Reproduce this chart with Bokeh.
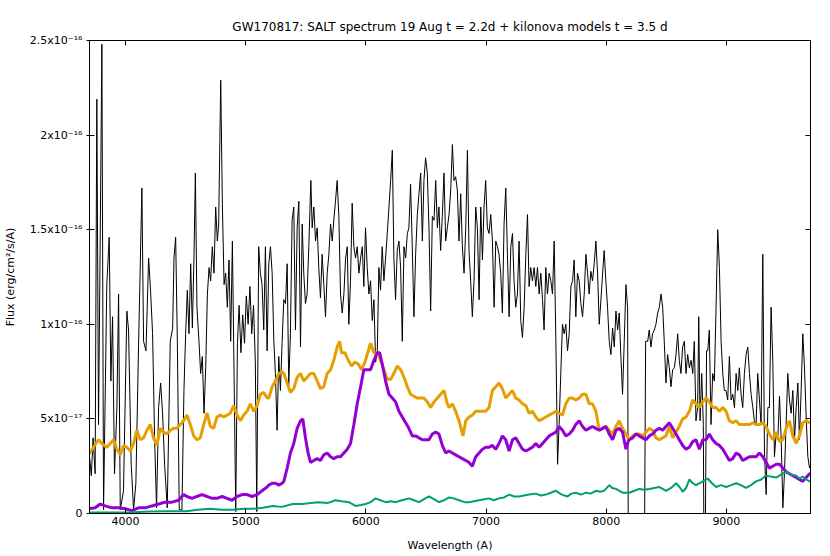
from bokeh.plotting import figure
from bokeh.models import Range1d, FixedTicker, LinearAxis
from bokeh.embed import file_html
from bokeh.resources import INLINE

TITLE = "GW170817: SALT spectrum 19 Aug t = 2.2d + kilonova models t = 3.5 d"

# Fluxes are in units of 1e-17 erg/cm2/s/A
obs_wl = [3700, 3715, 3730, 3747, 3761, 3775, 3789, 3803, 3817, 3844, 3864, 3878, 3892, 3908, 3928, 3942, 3956, 3983,
          4011, 4025, 4047, 4067, 4086, 4108, 4136, 4150, 4170, 4192, 4208, 4225, 4242, 4258, 4275, 4292, 4308, 4325,
          4347, 4372, 4392, 4403, 4417, 4431, 4447, 4469, 4486, 4500, 4514, 4528, 4542, 4556, 4570, 4581, 4594, 4611,
          4625, 4639, 4653, 4667, 4681, 4695, 4708, 4722, 4736, 4750, 4764, 4775, 4792, 4806, 4820, 4833, 4847, 4861,
          4875, 4889, 4903, 4917, 4931, 4945, 4960, 4975, 4990, 5005, 5020, 5035, 5050, 5065, 5080, 5092, 5108, 5122,
          5136, 5150, 5164, 5178,
          5192, 5206, 5220, 5234, 5247, 5261, 5275, 5289, 5303, 5317, 5331, 5345, 5358, 5372, 5386, 5400, 5414, 5428,
          5442, 5456, 5470, 5483, 5497, 5511, 5525, 5542, 5553, 5567, 5581, 5595, 5608, 5622, 5636, 5650, 5664, 5678,
          5692, 5706, 5720, 5733, 5747, 5761, 5775, 5789, 5803, 5817, 5831, 5845, 5858, 5872, 5886, 5900, 5914, 5928,
          5942, 5956, 5970, 5983, 5997, 6011, 6025, 6039, 6053, 6067, 6081, 6095, 6108, 6122, 6136, 6150, 6164, 6178,
          6192, 6206, 6220, 6233, 6247, 6261, 6275, 6289, 6303, 6317, 6331, 6345, 6358, 6372, 6386, 6400, 6414, 6428,
          6442, 6456, 6470, 6483, 6497, 6511, 6525, 6539, 6553, 6567, 6581, 6595, 6608, 6622, 6636, 6650, 6664, 6678,
          6692, 6706, 6720, 6733, 6747, 6761, 6775, 6789, 6803, 6817, 6831, 6845, 6858, 6872, 6886, 6900, 6914, 6928,
          6942, 6956, 6970, 6983, 6997, 7011, 7025, 7039, 7053, 7067, 7081, 7095, 7108, 7122, 7136, 7150, 7164, 7178,
          7192, 7206, 7220, 7233, 7247, 7261, 7275, 7289, 7303, 7317, 7331, 7345, 7358, 7372, 7386, 7400, 7414, 7428,
          7442, 7456, 7470, 7483, 7497, 7511, 7525, 7539, 7553, 7567, 7581, 7595, 7608, 7622, 7636, 7650, 7664, 7678,
          7692, 7706, 7720, 7733, 7747, 7761, 7775, 7789, 7803, 7817, 7831, 7845, 7858, 7872, 7886, 7900, 7914, 7928,
          7942, 7956, 7970, 7983, 7997, 8011, 8025, 8039, 8053, 8067, 8081, 8095, 8108, 8122, 8136, 8150, 8164, 8178,
          8183, 8320, 8328, 8345, 8358, 8372, 8386, 8400, 8414, 8428, 8442, 8456, 8470, 8483, 8497, 8511, 8525, 8539,
          8553, 8567, 8581, 8595, 8608, 8622, 8636, 8650, 8664, 8678, 8692, 8706, 8720, 8733, 8747, 8761, 8770, 8781,
          8795, 8808, 8812, 8826, 8835, 8845, 8858, 8872, 8886, 8900, 8914, 8928, 8942, 8956, 8970, 8983, 8997, 9011,
          9025, 9039, 9053, 9067, 9081, 9095, 9108, 9122, 9136, 9150, 9164, 9178, 9192, 9206, 9220, 9233, 9247, 9261,
          9275, 9289, 9303, 9317, 9331, 9345, 9358, 9372, 9386, 9400, 9414, 9428, 9442, 9456, 9470, 9483, 9497, 9511,
          9525, 9539, 9553, 9567, 9581, 9595, 9608, 9622, 9636, 9650, 9664, 9678, 9692]
obs_flux = [3.0, 2.0, 4.0, 2.1, 21.9, 4.7, 14.4, 24.8, 0.2, 12.1, 14.6, 7.0, 10.4, 2.1, 5.6, 11.6, 0.2, 1.2,
            10.7, 9.7, 2.6, 0.2, 1.6, 8.8, 17.2, 9.1, 8.6, 13.5, 11.8, 9.5, 3.9, 0.3, 5.6, 6.9, 5.3, 2.6,
            0.3, 9.1, 9.8, 13.5, 14.6, 9.1, 0.2, 0.2, 6.5, 9.5, 11.8, 9.5, 13.2, 9.8, 13.7, 18.0, 10.9, 9.1,
            7.4, 8.3, 5.3, 7.7, 11.6, 13.0, 12.3, 14.1, 12.7, 16.2, 14.4, 15.3, 22.9, 16.2, 12.1, 12.7, 10.9, 13.4,
            9.1, 14.4, 7.4, 0.1, 9.0, 11.0, 8.5, 10.5, 9.0, 11.5, 10.0, 12.0, 9.5, 11.0, 8.0, 0.1, 14.1, 12.7,
            12.1, 9.7, 14.1, 8.6,
            13.2, 14.1, 12.7, 9.1, 7.4, 4.4, 8.3, 6.5, 9.1, 11.3, 11.1, 13.2, 6.8, 9.5, 15.5, 16.2, 9.7, 15.1,
            16.5, 8.8, 15.3, 12.7, 11.1, 11.6, 14.1, 17.6, 15.1, 16.2, 14.4, 15.1, 13.0, 11.4, 13.7, 12.1, 10.4, 12.7,
            13.7, 15.3, 14.4, 15.5, 16.5, 17.6, 15.7, 11.6, 10.6, 11.6, 13.5, 14.1, 10.0, 12.3, 16.4, 14.1, 13.5, 14.1,
            12.7, 13.5, 14.1, 12.0, 15.1, 13.0, 11.6, 12.3, 10.2, 11.3, 8.0, 8.6, 13.0, 11.8, 14.1, 12.3, 13.5, 14.8,
            16.2, 17.6, 19.2, 13.5, 11.3, 13.9, 14.4, 13.0, 9.1, 14.1, 13.5, 14.8, 15.1, 17.4, 14.1, 10.4, 13.7, 15.8,
            16.9, 18.0, 14.4, 17.6, 18.8, 18.0, 15.1, 10.7, 15.7, 15.5, 17.6, 15.1, 16.2, 13.9, 15.7, 18.0, 14.4, 15.1,
            15.8, 17.1, 19.5, 17.6, 17.8, 17.1, 14.4, 16.9, 14.1, 12.7, 15.1, 19.2, 13.9, 12.3, 10.4, 12.3, 16.2, 15.1,
            11.3, 16.2, 13.4, 16.2, 17.6, 15.1, 14.8, 15.8, 14.4, 10.9, 14.4, 14.1, 13.7, 12.7, 10.6, 15.3, 17.2, 13.7,
            10.4, 14.1, 14.8, 12.3, 10.9, 11.6, 14.4, 10.2, 9.3, 10.9, 13.7, 15.8, 12.0, 13.0, 12.3, 13.0, 12.0, 13.0,
            11.6, 12.7, 11.3, 9.7, 13.0, 11.6, 12.7, 12.3, 11.6, 14.4, 9.1, 2.6, 4.7, 7.4, 10.0, 9.5, 10.0, 8.6,
            9.5, 12.0, 12.3, 13.4, 10.4, 12.7, 12.3, 11.1, 10.4, 11.6, 13.7, 12.7, 11.6, 12.8, 12.3, 13.2, 14.4, 12.7,
            10.0, 11.3, 12.7, 13.9, 12.3, 10.9, 9.1, 8.4, 9.8, 8.8, 10.7, 9.7, 10.6, 8.3, 6.3, 9.1, 12.1, 10.9,
            0.0, 0.0, 9.1, 9.1, 9.7, 8.8, 9.5, 9.7, 10.0, 10.6, 10.9, 11.6, 10.9, 9.1, 6.9, 8.4, 7.7, 6.7,
            7.6, 7.7, 8.4, 9.5, 8.1, 7.4, 8.8, 9.1, 7.4, 8.4, 7.7, 8.1, 7.4, 9.1, 4.9, 5.6, 10.4, 4.9,
            7.4, 4.7, 0.0, 0.0, 8.6, 8.6, 9.7, 4.7, 7.4, 7.0, 10.9, 15.0, 13.0, 9.1, 7.4, 6.5, 6.5, 6.0,
            8.3, 6.0, 6.3, 5.6, 7.4, 6.5, 7.7, 6.3, 5.6, 7.4, 8.4, 8.8, 7.4, 6.3, 5.6, 4.9, 4.7, 7.4,
            6.0, 4.7, 13.7, 3.2, 1.0, 5.6, 5.6, 10.9, 8.1, 3.0, 4.2, 3.9, 6.2, 3.9, 0.3, 2.1, 4.7, 7.4,
            6.0, 5.3, 6.5, 3.9, 5.6, 6.9, 3.9, 6.5, 9.5, 7.7, 5.1, 3.0, 2.4]

orange_wl = [3692, 3733, 3775, 3803, 3844, 3872, 3900, 3928, 3956, 3983, 4011, 4039, 4067, 4094, 4122, 4150, 4178,
             4206, 4233, 4261, 4289, 4317, 4344, 4372, 4400, 4428, 4456, 4483, 4511, 4539, 4567, 4594, 4622, 4650,
             4678, 4706, 4733, 4761, 4789, 4817, 4845, 4872, 4900, 4928, 4956, 4983, 5011, 5039, 5067, 5095, 5122,
             5150, 5178, 5192, 5220, 5247, 5275, 5303, 5317, 5345, 5372, 5400, 5428, 5456, 5483, 5511, 5539, 5567,
             5595, 5622, 5650, 5678, 5706, 5733, 5761, 5781, 5797, 5825, 5853, 5881, 5908, 5936, 5964, 5992, 6020,
             6039, 6067, 6095, 6122, 6150, 6178, 6206, 6233, 6261, 6289, 6317, 6345, 6372, 6400, 6428, 6456, 6483,
             6511, 6539, 6567, 6595, 6622, 6650, 6678, 6692, 6720, 6747, 6775, 6808, 6831, 6858, 6886, 6914, 6942,
             6970, 6997, 7025, 7053, 7081, 7108, 7136, 7164, 7192, 7220, 7247, 7275, 7303, 7331, 7358, 7386, 7414,
             7442, 7470, 7497, 7525, 7553, 7581, 7608, 7636, 7664, 7692, 7720, 7747, 7775, 7803, 7831, 7858, 7886,
             7914, 7942, 7970, 7997, 8025, 8053, 8081, 8108, 8136, 8164, 8183, 8192, 8220, 8247, 8275, 8303, 8331,
             8358, 8386, 8414, 8442, 8470, 8497, 8525, 8553, 8581, 8608, 8636, 8664, 8692, 8720, 8747, 8775, 8803,
             8831, 8858, 8886, 8914, 8942, 8970, 8997, 9025, 9053, 9081, 9108, 9136, 9164, 9192, 9220, 9247, 9275,
             9303, 9331, 9358, 9386, 9414, 9442, 9470, 9497, 9525, 9553, 9581, 9608, 9636, 9664, 9692, 9700]
orange_flux = [3.1, 3.5, 3.9, 3.7, 3.5, 3.7, 3.9, 3.4, 3.1, 3.6, 3.5, 3.3, 3.7, 4.4, 3.9, 4.0, 4.4,
               4.7, 4.0, 3.6, 4.5, 4.3, 4.2, 4.4, 4.5, 4.5, 4.7, 4.9, 5.2, 4.7, 4.1, 3.9, 4.0, 4.7,
               5.3, 4.6, 4.5, 5.1, 5.2, 5.1, 5.2, 5.3, 5.7, 5.2, 4.9, 5.2, 5.4, 5.8, 5.4, 5.7, 6.3,
               6.4, 6.1, 6.1, 6.7, 7.0, 7.4, 7.5, 7.4, 6.9, 6.4, 6.6, 7.2, 7.4, 7.0, 7.2, 7.4, 7.4,
               7.0, 6.6, 6.7, 7.4, 7.6, 8.1, 8.8, 9.1, 8.5, 8.5, 8.1, 7.8, 8.0, 7.9, 7.6, 8.0, 8.6,
               9.0, 8.5, 8.5, 8.1, 7.6, 7.1, 7.1, 7.4, 7.8, 7.6, 7.2, 6.7, 6.3, 6.2, 6.1, 6.1, 6.1,
               5.9, 5.6, 5.9, 6.1, 6.3, 6.5, 5.8, 5.6, 5.8, 5.4, 4.9, 4.1, 4.9, 5.1, 5.2, 5.4, 5.4,
               5.4, 5.4, 5.6, 6.5, 6.7, 6.9, 6.6, 6.1, 6.3, 6.5, 6.1, 6.0, 5.8, 5.7, 5.3, 5.4, 5.1,
               4.9, 5.0, 5.1, 5.2, 5.3, 5.4, 5.3, 5.2, 5.8, 6.1, 6.1, 6.0, 6.1, 6.3, 6.3, 5.8, 5.8,
               5.4, 4.4, 4.5, 4.6, 4.4, 4.2, 4.6, 4.9, 4.5, 4.2, 4.0, 3.9, 4.1, 4.2, 4.2, 4.1, 4.3,
               4.5, 4.4, 4.0, 3.9, 4.0, 4.1, 4.6, 4.0, 4.3, 4.6, 5.0, 5.1, 5.4, 6.0, 5.8, 5.6, 5.9,
               6.1, 5.9, 5.6, 5.6, 5.4, 5.6, 5.4, 4.9, 4.8, 4.9, 4.7, 4.7, 4.7, 4.7, 4.8, 4.7, 4.7,
               4.8, 4.6, 4.2, 3.9, 4.3, 3.8, 3.9, 4.5, 4.9, 4.1, 3.7, 4.1, 4.8, 4.9, 4.8, 4.8]

purple_wl = [3692, 3747, 3789, 3831, 3886, 3942, 3997, 4053, 4108, 4164, 4219, 4275, 4330, 4386, 4442, 4483, 4511,
             4553, 4594, 4636, 4678, 4719, 4761, 4803, 4845, 4886, 4928, 4970, 5011, 5053, 5095, 5136, 5178, 5192,
             5220, 5247, 5275, 5303, 5317, 5345, 5372, 5400, 5428, 5456, 5475, 5497, 5519, 5539, 5567, 5595, 5622,
             5650, 5678, 5706, 5733, 5761, 5789, 5817, 5845, 5872, 5900, 5928, 5956, 5983, 6011, 6039, 6067, 6095,
             6114, 6136, 6164, 6192, 6220, 6247, 6275, 6303, 6331, 6358, 6386, 6414, 6442, 6470, 6497, 6525, 6553,
             6581, 6608, 6636, 6664, 6692, 6720, 6747, 6775, 6803, 6831, 6858, 6886, 6914, 6942, 6970, 6997, 7025,
             7053, 7081, 7108, 7136, 7164, 7192, 7220, 7247, 7275, 7303, 7331, 7358, 7386, 7414, 7442, 7470, 7497,
             7525, 7553, 7581, 7608, 7636, 7664, 7692, 7720, 7747, 7775, 7803, 7831, 7858, 7886, 7914, 7942, 7970,
             7997, 8025, 8053, 8081, 8108, 8136, 8164, 8183, 8192, 8220, 8247, 8275, 8303, 8331, 8358, 8386, 8414,
             8442, 8470, 8497, 8525, 8553, 8581, 8608, 8636, 8664, 8692, 8720, 8747, 8775, 8803, 8831, 8858, 8886,
             8914, 8942, 8970, 8997, 9025, 9053, 9081, 9108, 9136, 9164, 9192, 9220, 9247, 9275, 9303, 9331, 9358,
             9386, 9414, 9442, 9470, 9497, 9525, 9553, 9581, 9608, 9636, 9664, 9692, 9700]
purple_flux = [0.25, 0.3, 0.5, 0.4, 0.3, 0.3, 0.25, 0.15, 0.3, 0.3, 0.4, 0.5, 0.6, 0.6, 0.7, 1.0, 0.9,
               0.8, 0.9, 1.0, 0.9, 0.8, 0.8, 0.9, 0.8, 0.7, 0.9, 1.0, 1.0, 0.9, 1.0, 1.2, 1.4, 1.5,
               1.6, 1.6, 1.5, 1.6, 1.7, 2.4, 3.2, 3.7, 4.5, 4.9, 5.0, 4.0, 3.2, 2.7, 2.8, 2.9, 2.8,
               3.1, 3.2, 3.0, 2.9, 3.0, 3.0, 3.2, 3.4, 3.7, 4.7, 5.8, 6.7, 7.6, 7.6, 7.6, 8.1, 8.5,
               8.5, 7.9, 7.0, 6.3, 6.1, 5.9, 5.4, 5.1, 4.8, 4.5, 4.1, 4.1, 4.0, 3.9, 3.9, 3.9, 4.2,
               4.3, 4.2, 3.6, 3.2, 3.3, 3.2, 3.1, 3.0, 2.9, 2.8, 2.7, 2.5, 3.0, 3.2, 3.4, 3.5, 3.5,
               3.6, 3.4, 3.7, 4.1, 3.9, 3.3, 3.9, 4.0, 3.7, 3.4, 3.3, 3.4, 3.5, 3.7, 3.5, 3.7, 3.9,
               4.1, 4.2, 4.3, 4.6, 4.4, 4.1, 4.2, 4.4, 4.7, 4.9, 4.6, 4.4, 4.5, 4.6, 4.5, 4.4, 4.5,
               4.6, 4.2, 3.9, 4.4, 4.5, 4.3, 3.4, 3.8, 3.9, 4.0, 4.2, 4.1, 4.0, 3.9, 4.1, 4.2, 4.4,
               4.5, 4.4, 4.6, 4.8, 4.5, 4.2, 3.9, 3.6, 3.4, 3.5, 3.8, 3.9, 3.4, 3.9, 3.9, 4.2, 3.9,
               3.7, 3.6, 3.4, 3.1, 2.8, 2.9, 3.2, 3.1, 2.8, 2.9, 3.0, 3.0, 3.0, 3.2, 3.0, 2.7, 2.4,
               2.5, 2.6, 2.6, 2.4, 2.2, 2.1, 2.0, 1.9, 1.8, 1.7, 1.9, 2.1, 2.1]

green_wl = [3700, 3800, 3900, 4030, 4200, 4340, 4508, 4600, 4700, 4800, 4892, 4980, 5058, 5140, 5225, 5300, 5392,
            5470, 5540, 5608, 5680, 5747, 5800, 5858, 5914, 5960, 5997, 6040, 6081, 6120, 6164, 6210, 6247, 6300,
            6358, 6400, 6442, 6480, 6525, 6570, 6608, 6650, 6692, 6730, 6775, 6820, 6858, 6900, 6942, 6985, 7025,
            7065, 7108, 7150, 7192, 7235, 7275, 7315, 7358, 7414, 7455, 7497, 7540, 7581, 7630, 7678, 7710, 7747,
            7790, 7831, 7870, 7914, 7950, 7983, 8025, 8050, 8081, 8110, 8136, 8192, 8235, 8275, 8315, 8358, 8400,
            8442, 8470, 8497, 8540, 8581, 8610, 8636, 8665, 8692, 8720, 8747, 8790, 8844, 8880, 8914, 8955, 8997,
            9040, 9081, 9120, 9164, 9205, 9247, 9290, 9331, 9370, 9414, 9455, 9497, 9540, 9581, 9610, 9636, 9664,
            9692, 9700]
green_flux = [0.05, 0.05, 0.05, 0.05, 0.1, 0.12, 0.12, 0.2, 0.25, 0.2, 0.2, 0.25, 0.25, 0.3, 0.4, 0.35, 0.5,
              0.5, 0.55, 0.6, 0.55, 0.7, 0.65, 0.6, 0.4, 0.45, 0.5, 0.6, 0.8, 0.7, 0.6, 0.65, 0.6, 0.7,
              0.8, 0.7, 0.6, 0.75, 0.9, 0.75, 0.6, 0.7, 0.85, 0.8, 0.7, 0.6, 0.6, 0.65, 0.7, 0.75, 0.8,
              0.7, 0.8, 0.85, 1.0, 0.9, 0.9, 0.95, 1.0, 1.05, 0.95, 1.0, 1.1, 1.2, 1.0, 0.9, 1.05, 1.1,
              1.0, 1.1, 1.05, 1.2, 1.15, 1.2, 1.5, 1.35, 1.3, 1.2, 1.1, 1.1, 1.2, 1.3, 1.25, 1.3, 1.35,
              1.4, 1.3, 1.2, 1.35, 1.6, 1.4, 1.15, 1.35, 1.8, 1.6, 1.5, 1.65, 1.85, 1.6, 1.4, 1.5, 1.4,
              1.5, 1.6, 1.5, 1.35, 1.5, 1.7, 1.8, 2.0, 1.95, 1.9, 2.05, 2.2, 2.05, 2.0, 1.85, 1.95, 1.8,
              1.7, 1.7]

x_ticks = [4000, 5000, 6000, 7000, 8000, 9000]
y_ticks = [0, 5, 10, 15, 20, 25]
y_tick_labels = ["0", "5x10\u207b\u00b9\u2077", "1x10\u207b\u00b9\u2076", "1.5x10\u207b\u00b9\u2076",
                 "2x10\u207b\u00b9\u2076", "2.5x10\u207b\u00b9\u2076"]

FONT = "DejaVu Sans"

p = figure(width=822, height=556, output_backend="svg", toolbar_location=None,
           x_range=Range1d(3700, 9700), y_range=Range1d(0, 25),
           min_border_left=89, min_border_right=12, min_border_top=40, min_border_bottom=43,
           title=TITLE)
p.title.align = "center"
p.title.text_font = FONT
p.title.text_font_size = "12px"
p.title.text_font_style = "normal"
p.title.text_color = "black"
p.title.standoff = 13

p.xgrid.visible = False
p.ygrid.visible = False
p.outline_line_color = "black"
p.outline_line_alpha = 1.0
p.outline_line_width = 1
p.background_fill_color = "white"
p.border_fill_color = "white"

def style_axis(ax, labels=True):
    ax.major_tick_in = 5
    ax.major_tick_out = 0
    ax.minor_tick_line_color = None
    ax.axis_line_color = "black"
    ax.major_tick_line_color = "black"
    ax.major_label_text_font = FONT
    ax.major_label_text_color = "black"
    ax.axis_label_text_font = FONT
    ax.axis_label_text_font_style = "normal"
    ax.axis_label_text_font_size = "11px"
    ax.axis_label_text_color = "black"
    if labels:
        ax.major_label_text_font_size = "11px"
    else:
        ax.major_label_text_font_size = "0px"
        ax.major_label_standoff = 0

xa = p.xaxis[0]
xa.ticker = FixedTicker(ticks=x_ticks)
style_axis(xa)
xa.axis_label = "Wavelength (A)"
xa.major_label_standoff = 3
xa.axis_label_standoff = 11

ya = p.yaxis[0]
ya.ticker = FixedTicker(ticks=y_ticks)
style_axis(ya)
ya.major_tick_out = 3
ya.major_label_overrides = {t: lab for t, lab in zip(y_ticks, y_tick_labels)}
ya.axis_label = "Flux (erg/cm\u00b2/s/A)"
ya.major_label_standoff = 4
ya.axis_label_standoff = 10

top = LinearAxis(ticker=FixedTicker(ticks=x_ticks))
style_axis(top, labels=False)
p.add_layout(top, "above")
right = LinearAxis(ticker=FixedTicker(ticks=y_ticks))
style_axis(right, labels=False)
p.add_layout(right, "right")

p.line(obs_wl, obs_flux, line_color="black", line_width=1)
p.line(orange_wl, orange_flux, line_color="#E69F00", line_width=3)
p.line(purple_wl, purple_flux, line_color="#9400D3", line_width=3)
p.line(green_wl, green_flux, line_color="#009E73", line_width=2)

open("out.html", "w").write(file_html(p, INLINE))
